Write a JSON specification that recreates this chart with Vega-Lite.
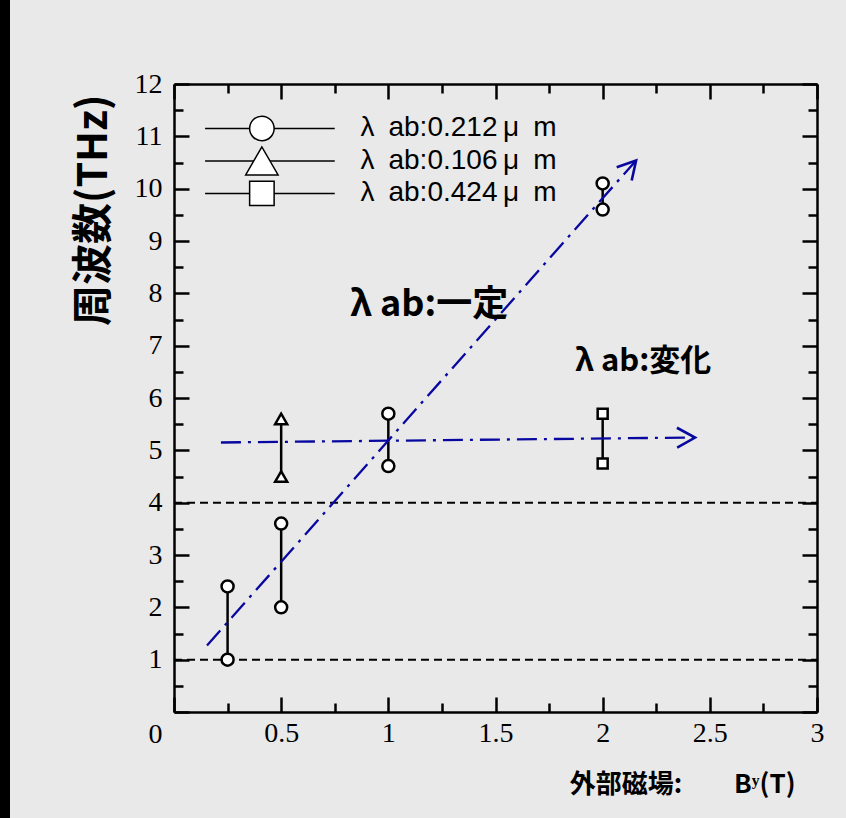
{
  "$schema": "https://vega.github.io/schema/vega-lite/v6.json",
  "width": 643,
  "height": 628,
  "autosize": {"type": "none"},
  "padding": {"left": 174, "top": 84, "right": 29, "bottom": 106},
  "background": "#000000",
  "config": {
    "view": {"fill": "#e9e9e9", "stroke": "#e9e9e9", "strokeWidth": 328},
    "axis": {
      "domainColor": "#000000",
      "domainWidth": 2.5,
      "tickColor": "#000000",
      "tickWidth": 2.5,
      "labelFont": "Liberation Serif",
      "labelFontSize": 28,
      "labelColor": "#000000",
      "labelFlush": false,
      "labelOverlap": false,
      "grid": false,
      "titleColor": "#000000"
    }
  },
  "datasets": {
    "refs": [{"f": 1}, {"f": 4}],
    "pairs": [
      {"series": "0.212", "B": 0.25, "lo": 1.0, "hi": 2.4},
      {"series": "0.212", "B": 0.5, "lo": 2.0, "hi": 3.6},
      {"series": "0.106", "B": 0.5, "lo": 4.5, "hi": 5.6},
      {"series": "0.212", "B": 1, "lo": 4.7, "hi": 5.7},
      {"series": "0.424", "B": 2, "lo": 4.75, "hi": 5.7},
      {"series": "0.212", "B": 2, "lo": 9.6, "hi": 10.1}
    ],
    "points": [
      {"series": "0.212", "B": 0.25, "f": 1.0},
      {"series": "0.212", "B": 0.25, "f": 2.4},
      {"series": "0.212", "B": 0.5, "f": 2.0},
      {"series": "0.212", "B": 0.5, "f": 3.6},
      {"series": "0.106", "B": 0.5, "f": 4.5},
      {"series": "0.106", "B": 0.5, "f": 5.6},
      {"series": "0.212", "B": 1, "f": 4.7},
      {"series": "0.212", "B": 1, "f": 5.7},
      {"series": "0.424", "B": 2, "f": 4.75},
      {"series": "0.424", "B": 2, "f": 5.7},
      {"series": "0.212", "B": 2, "f": 9.6},
      {"series": "0.212", "B": 2, "f": 10.1}
    ],
    "trends": [
      {"trend": "fixed", "B": 0.154, "f": 1.27, "tip": false},
      {"trend": "fixed", "B": 2.156, "f": 10.54, "tip": true},
      {"trend": "varied", "B": 0.219, "f": 5.15, "tip": false},
      {"trend": "varied", "B": 2.431, "f": 5.245, "tip": true}
    ],
    "legend": [
      {"series": "0.212", "label": "λ\u2002ab:0.212\u2009μ\u2002m"},
      {"series": "0.106", "label": "λ\u2002ab:0.106\u2009μ\u2002m"},
      {"series": "0.424", "label": "λ\u2002ab:0.424\u2009μ\u2002m"}
    ]
  },
  "layer": [
    {
      "data": {"name": "refs"},
      "mark": {"type": "rule", "strokeDash": [8, 5], "strokeWidth": 2, "color": "#000000"},
      "encoding": {
        "x": {
          "datum": 0, "type": "quantitative",
          "scale": {"domain": [0, 3], "nice": false, "zero": false},
          "axis": {
            "orient": "bottom",
            "values": [0, 0.5, 1, 1.5, 2, 2.5, 3],
            "format": "~g",
            "labelExpr": "datum.value === 0 ? '' : datum.label",
            "tickSize": -15,
            "labelPadding": 22,
            "labelBaseline": "top",
            "title": "外部磁場:\u3000\u3000Bʸ(T)",
            "titleFont": "Noto Sans CJK JP",
            "titleFontWeight": "bold",
            "titleFontSize": 26,
            "titleAlign": "right",
            "titleAnchor": null,
            "titleBaseline": "alphabetic",
            "titleX": 621,
            "titleY": 80
          }
        },
        "x2": {"datum": 3},
        "y": {
          "field": "f", "type": "quantitative",
          "scale": {"domain": [0, 12], "nice": false, "zero": false},
          "axis": {
            "orient": "left",
            "values": [0, 1, 2, 3, 4, 5, 6, 7, 8, 9, 10, 11, 12],
            "format": "~g",
            "tickSize": -15,
            "labelPadding": 27,
            "labelBaseline": {"condition": {"test": "datum.value === 0", "value": "top"}, "value": "middle"},
            "labelOffset": {"condition": {"test": "datum.value === 0", "value": 8}, "value": 0},
            "title": "周波数(THz)",
            "titleFont": "Noto Sans CJK JP",
            "titleFontWeight": "bold",
            "titleFontSize": 41,
            "titleAngle": -90,
            "titleAlign": "right",
            "titleAnchor": null,
            "titleBaseline": "middle",
            "titleX": -80,
            "titleY": 10
          }
        }
      }
    },
    {
      "data": {"name": "pairs"},
      "mark": {"type": "rule", "strokeWidth": 2.5, "color": "#000000"},
      "encoding": {
        "x": {
          "field": "B", "type": "quantitative",
          "axis": {"orient": "bottom", "values": [0.25, 0.75, 1.25, 1.75, 2.25, 2.75], "labels": false, "domain": false, "tickSize": -9, "title": null}
        },
        "y": {
          "field": "lo", "type": "quantitative",
          "axis": {"orient": "left", "values": [0.5, 1.5, 2.5, 3.5, 4.5, 5.5, 6.5, 7.5, 8.5, 9.5, 10.5, 11.5], "labels": false, "domain": false, "tickSize": -9, "title": null}
        },
        "y2": {"field": "hi"}
      }
    },
    {
      "data": {"name": "trends"},
      "mark": {"type": "line", "color": "#0808a0", "strokeWidth": 2.3, "strokeDash": [20, 7, 3, 7]},
      "encoding": {
        "x": {
          "field": "B", "type": "quantitative",
          "axis": {"orient": "top", "values": [0.25, 0.75, 1.25, 1.75, 2.25, 2.75], "labels": false, "domain": false, "tickSize": -9, "title": null}
        },
        "y": {
          "field": "f", "type": "quantitative",
          "axis": {"orient": "right", "values": [0.5, 1.5, 2.5, 3.5, 4.5, 5.5, 6.5, 7.5, 8.5, 9.5, 10.5, 11.5], "labels": false, "domain": false, "tickSize": -9, "title": null}
        },
        "detail": {"field": "trend"}
      }
    },
    {
      "data": {"name": "trends"},
      "transform": [{"filter": "datum.tip"}],
      "mark": {"type": "point", "shape": "M-1.8,-1L0,0L-1.8,1", "filled": false, "color": "#0808a0", "strokeWidth": 2.6, "size": 400, "opacity": 1},
      "encoding": {
        "x": {"field": "B", "type": "quantitative", "axis": null},
        "y": {"field": "f", "type": "quantitative", "axis": null},
        "angle": {"condition": {"test": "datum.trend === 'fixed'", "value": 311.4}, "value": 359.3}
      }
    },
    {
      "data": {"name": "points"},
      "mark": {"type": "point", "filled": true, "fill": "#ffffff", "stroke": "#000000", "strokeWidth": 2.5, "opacity": 1},
      "encoding": {
        "x": {
          "field": "B", "type": "quantitative",
          "axis": {"orient": "top", "values": [0, 0.5, 1, 1.5, 2, 2.5, 3], "labels": false, "tickSize": -15, "title": null}
        },
        "y": {
          "field": "f", "type": "quantitative",
          "axis": {"orient": "right", "values": [0, 1, 2, 3, 4, 5, 6, 7, 8, 9, 10, 11, 12], "labels": false, "tickSize": -15, "title": null}
        },
        "shape": {
          "field": "series", "type": "nominal",
          "scale": {"domain": ["0.212", "0.106", "0.424"], "range": ["circle", "triangle-up", "square"]},
          "legend": null
        },
        "size": {"condition": {"test": "datum.series === '0.424'", "value": 100}, "value": 145}
      }
    },
    {
      "data": {"name": "legend"},
      "transform": [{"filter": "datum.series === '0.212'"}],
      "encoding": {"y": {"datum": 11.15, "type": "quantitative", "axis": null}},
      "layer": [
        {"mark": {"type": "rule", "strokeWidth": 1.5, "color": "#000000"},
         "encoding": {"x": {"datum": 0.145, "type": "quantitative", "axis": null}, "x2": {"datum": 0.75}}},
        {"mark": {"type": "point", "filled": true, "fill": "#ffffff", "stroke": "#000000", "strokeWidth": 1.5, "opacity": 1, "size": 600},
         "encoding": {"x": {"datum": 0.41, "type": "quantitative", "axis": null}, "shape": {"field": "series", "type": "nominal", "legend": null}}},
        {"mark": {"type": "text", "align": "left", "baseline": "middle", "font": "Liberation Sans", "fontSize": 28, "color": "#000000"},
         "encoding": {"x": {"datum": 0.87, "type": "quantitative", "axis": null}, "text": {"field": "label"}}}
      ]
    },
    {
      "data": {"name": "legend"},
      "transform": [{"filter": "datum.series === '0.106'"}],
      "encoding": {"y": {"datum": 10.53, "type": "quantitative", "axis": null}},
      "layer": [
        {"mark": {"type": "rule", "strokeWidth": 1.5, "color": "#000000"},
         "encoding": {"x": {"datum": 0.145, "type": "quantitative", "axis": null}, "x2": {"datum": 0.75}}},
        {"mark": {"type": "point", "filled": true, "fill": "#ffffff", "stroke": "#000000", "strokeWidth": 1.5, "opacity": 1, "size": 1050},
         "encoding": {"x": {"datum": 0.41, "type": "quantitative", "axis": null}, "shape": {"field": "series", "type": "nominal", "legend": null}}},
        {"mark": {"type": "text", "align": "left", "baseline": "middle", "font": "Liberation Sans", "fontSize": 28, "color": "#000000"},
         "encoding": {"x": {"datum": 0.87, "type": "quantitative", "axis": null}, "text": {"field": "label"}}}
      ]
    },
    {
      "data": {"name": "legend"},
      "transform": [{"filter": "datum.series === '0.424'"}],
      "encoding": {"y": {"datum": 9.91, "type": "quantitative", "axis": null}},
      "layer": [
        {"mark": {"type": "rule", "strokeWidth": 1.5, "color": "#000000"},
         "encoding": {"x": {"datum": 0.145, "type": "quantitative", "axis": null}, "x2": {"datum": 0.75}}},
        {"mark": {"type": "point", "filled": true, "fill": "#ffffff", "stroke": "#000000", "strokeWidth": 1.5, "opacity": 1, "size": 600},
         "encoding": {"x": {"datum": 0.41, "type": "quantitative", "axis": null}, "shape": {"field": "series", "type": "nominal", "legend": null}}},
        {"mark": {"type": "text", "align": "left", "baseline": "middle", "font": "Liberation Sans", "fontSize": 28, "color": "#000000"},
         "encoding": {"x": {"datum": 0.87, "type": "quantitative", "axis": null}, "text": {"field": "label"}}}
      ]
    },
    {
      "data": {"values": [{"t": "λ ab:一定"}]},
      "mark": {"type": "text", "align": "left", "baseline": "middle", "font": "Noto Sans CJK JP", "fontWeight": "bold", "fontSize": 36, "color": "#000000"},
      "encoding": {
        "x": {"datum": 0.821, "type": "quantitative", "axis": null},
        "y": {"datum": 7.78, "type": "quantitative", "axis": null},
        "text": {"field": "t"}
      }
    },
    {
      "data": {"values": [{"t": "λ ab:変化"}]},
      "mark": {"type": "text", "align": "left", "baseline": "middle", "font": "Noto Sans CJK JP", "fontWeight": "bold", "fontSize": 31, "color": "#000000"},
      "encoding": {
        "x": {"datum": 1.871, "type": "quantitative", "axis": null},
        "y": {"datum": 6.69, "type": "quantitative", "axis": null},
        "text": {"field": "t"}
      }
    }
  ],
  "resolve": {"axis": {"x": "independent", "y": "independent"}}
}
